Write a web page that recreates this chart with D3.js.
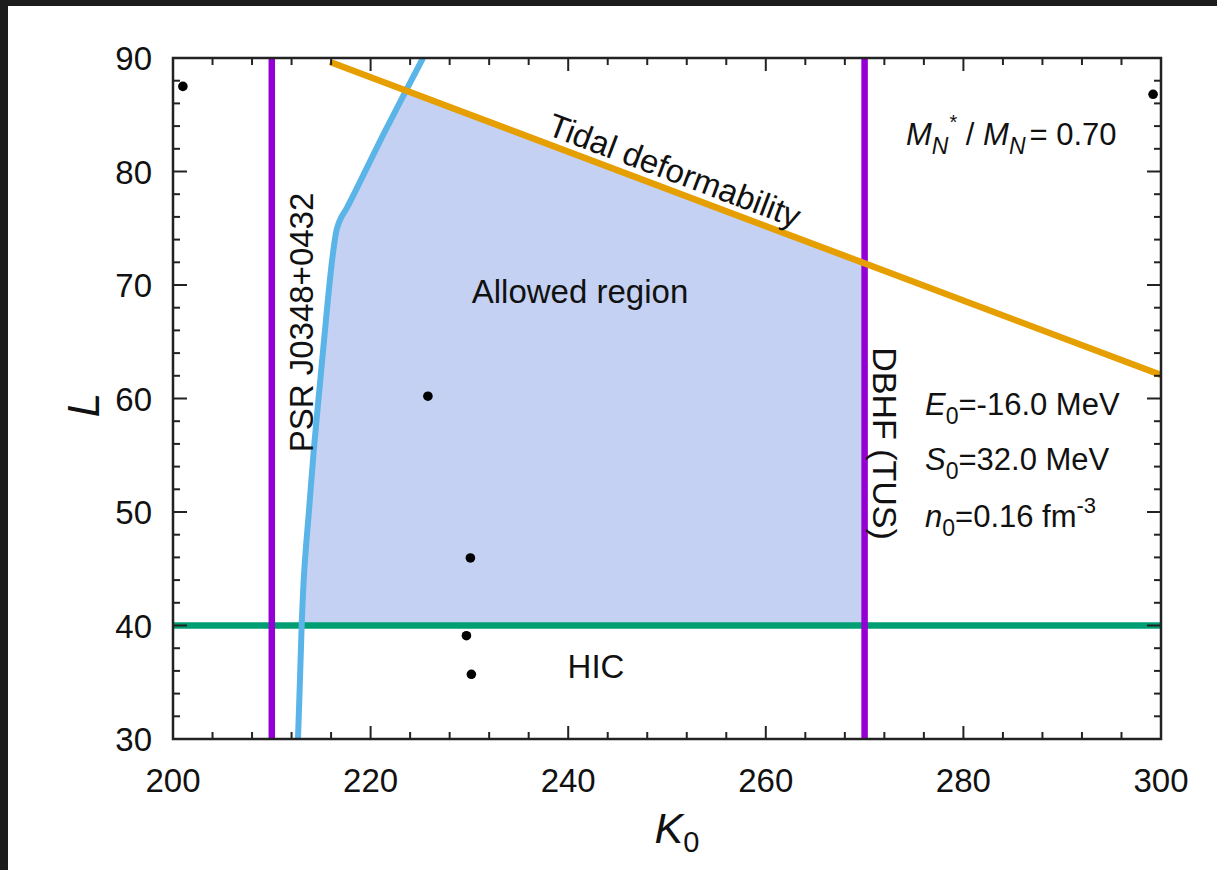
<!DOCTYPE html>
<html>
<head>
<meta charset="utf-8">
<script src="https://cdn.jsdelivr.net/npm/d3@7"></script>
<style>
  html, body { margin: 0; padding: 0; background: #fff; }
  svg { display: block; }
  text { font-family: "Liberation Sans", Arial, Helvetica, sans-serif; fill: #111; }
</style>
</head>
<body>
<svg id="chart" width="1217" height="870"></svg>
<script>
// Axis ticks
const kTicks = [200, 220, 240, 260, 280, 300];
const lTicks = [30, 40, 50, 60, 70, 80, 90];

// PSR J0348+0432 maximum-mass constraint (K0, L)
const psrK = [212.65, 212.85, 213.03, 213.3, 213.75, 214.25, 214.95, 215.6, 216.15, 216.6, 217.05, 217.6, 221.4, 225.3];
const psrL = [30.0, 35.2, 40.22, 45.0, 50.0, 55.46, 62.0, 68.0, 72.5, 75.0, 76.0, 76.8, 83.45, 90.0];

// Tidal deformability upper bound (K0, L)
const tidalK = [215.9, 300];
const tidalL = [89.65, 62.07];

// Vertical and horizontal constraints
const lowerK = 210;       // left purple bound
const dbhfK = 270;        // DBHF (TUS)
const hicL = 40;          // HIC

// Parameter sets
const dotK = [201.0, 299.2, 225.8, 230.1, 229.7, 230.2];
const dotL = [87.5, 86.8, 60.2, 45.95, 39.1, 35.7];

const svg = d3.select("#chart");
const W = 1217, H = 870;
const m = { left: 173, top: 58, right: 1161, bottom: 739 };

// Dark frame strips at the top and left edges
svg.append("rect").attr("x", 0).attr("y", 0).attr("width", W).attr("height", 6).attr("fill", "#1c1c1c");
svg.append("rect").attr("x", 0).attr("y", 0).attr("width", 8).attr("height", H).attr("fill", "#1c1c1c");

const x = d3.scaleLinear().domain([200, 300]).range([m.left, m.right]);
const y = d3.scaleLinear().domain([30, 90]).range([m.bottom, m.top]);

svg.append("defs").append("clipPath").attr("id", "plotclip")
  .append("rect").attr("x", m.left).attr("y", m.top)
  .attr("width", m.right - m.left).attr("height", m.bottom - m.top);

const plot = svg.append("g").attr("clip-path", "url(#plotclip)");

// Tidal line as a function of K0
const tidalAt = k => tidalL[0] + (tidalL[1] - tidalL[0]) * (k - tidalK[0]) / (tidalK[1] - tidalK[0]);

// PSR curve points as pairs
const psr = psrK.map((k, i) => [k, psrL[i]]);

function psrAtL(l) {
  for (let i = 0; i < psr.length - 1; i++) {
    const [k0, l0] = psr[i], [k1, l1] = psr[i + 1];
    if (l >= l0 && l <= l1) return k0 + (k1 - k0) * (l - l0) / (l1 - l0);
  }
  return psr[psr.length - 1][0];
}
function psrTidalCross() {
  for (let i = 0; i < psr.length - 1; i++) {
    const [k0, l0] = psr[i], [k1, l1] = psr[i + 1];
    const d0 = l0 - tidalAt(k0), d1 = l1 - tidalAt(k1);
    if (d0 <= 0 && d1 >= 0) {
      const t = d0 / (d0 - d1);
      return [k0 + t * (k1 - k0), l0 + t * (l1 - l0)];
    }
  }
  return psr[psr.length - 1];
}

const smooth = d3.line().x(d => x(d[0])).y(d => y(d[1])).curve(d3.curveCatmullRom.alpha(0.5));
const straight = d3.line().x(d => x(d[0])).y(d => y(d[1]));

// Allowed region: PSR curve from HIC up to the tidal line, along the tidal line
// to DBHF, then down to HIC.
const cross = psrTidalCross();
const leftEdge = [[psrAtL(hicL), hicL]];
psr.forEach(p => { if (p[1] > hicL && p[1] < cross[1]) leftEdge.push(p); });
leftEdge.push(cross);
const rest = [[dbhfK, tidalAt(dbhfK)], [dbhfK, hicL]];
const regionPath = smooth(leftEdge) + rest.map(p => `L${x(p[0])},${y(p[1])}`).join("") + "Z";

plot.append("path")
  .attr("d", regionPath)
  .attr("fill", "#c5d1f3")
  .attr("stroke", "none");

// HIC
plot.append("line")
  .attr("x1", x(200)).attr("x2", x(300))
  .attr("y1", y(hicL)).attr("y2", y(hicL))
  .attr("stroke", "#009e73").attr("stroke-width", 6.5);

// Purple bounds
[lowerK, dbhfK].forEach(k => {
  plot.append("line")
    .attr("x1", x(k)).attr("x2", x(k))
    .attr("y1", y(30)).attr("y2", y(90))
    .attr("stroke", "#9400d3").attr("stroke-width", 6.5);
});

// PSR curve
plot.append("path")
  .attr("d", smooth(psr))
  .attr("fill", "none")
  .attr("stroke", "#5bb4e8")
  .attr("stroke-width", 6)
  .attr("stroke-linejoin", "round");

// Tidal deformability line
plot.append("path")
  .attr("d", straight(tidalK.map((k, i) => [k, tidalL[i]])))
  .attr("fill", "none")
  .attr("stroke", "#e69f00")
  .attr("stroke-width", 6.5);

// Parameter-set dots
plot.selectAll("circle.dot")
  .data(dotK.map((k, i) => [k, dotL[i]]))
  .enter().append("circle")
  .attr("class", "dot")
  .attr("cx", d => x(d[0])).attr("cy", d => y(d[1]))
  .attr("r", 4.8).attr("fill", "#000");

// Frame with ticks on all four sides
const frame = svg.append("g");
const kMinor = d3.range(200, 300.01, 4);
const lMinor = d3.range(30, 90.01, 2);
const tickStroke = "#222";
const majLen = 13, minLen = 7;

kMinor.forEach(k => {
  const len = kTicks.includes(Math.round(k)) ? majLen : minLen;
  frame.append("line").attr("x1", x(k)).attr("x2", x(k))
    .attr("y1", m.bottom).attr("y2", m.bottom - len)
    .attr("stroke", tickStroke).attr("stroke-width", 2);
  frame.append("line").attr("x1", x(k)).attr("x2", x(k))
    .attr("y1", m.top).attr("y2", m.top + len)
    .attr("stroke", tickStroke).attr("stroke-width", 2);
});
lMinor.forEach(l => {
  const len = lTicks.includes(Math.round(l)) ? majLen + 1 : minLen;
  frame.append("line").attr("x1", m.left).attr("x2", m.left + len)
    .attr("y1", y(l)).attr("y2", y(l))
    .attr("stroke", tickStroke).attr("stroke-width", 2);
  frame.append("line").attr("x1", m.right).attr("x2", m.right - len)
    .attr("y1", y(l)).attr("y2", y(l))
    .attr("stroke", tickStroke).attr("stroke-width", 2);
});
frame.append("rect")
  .attr("x", m.left).attr("y", m.top)
  .attr("width", m.right - m.left).attr("height", m.bottom - m.top)
  .attr("fill", "none").attr("stroke", tickStroke).attr("stroke-width", 2.5);

// Tick labels
const fs = 33;
svg.selectAll("text.kt").data(kTicks).enter().append("text")
  .attr("class", "kt")
  .attr("x", d => x(d)).attr("y", m.bottom + 53)
  .attr("text-anchor", "middle").attr("font-size", fs)
  .text(d => d);
svg.selectAll("text.lt").data(lTicks).enter().append("text")
  .attr("class", "lt")
  .attr("x", m.left - 21).attr("y", d => y(d) + 12)
  .attr("text-anchor", "end").attr("font-size", fs)
  .text(d => d);

// Axis titles
const kt = svg.append("text")
  .attr("x", 677).attr("y", 843)
  .attr("text-anchor", "middle").attr("font-size", 43);
kt.append("tspan").attr("font-style", "italic").text("K");
kt.append("tspan").attr("font-size", 29).attr("dy", 9).text("0");

svg.append("text")
  .attr("transform", "translate(99,405) rotate(-90)")
  .attr("text-anchor", "middle").attr("font-size", 44)
  .attr("font-style", "italic")
  .text("L");

// Curve labels
const angle = Math.atan2(y(tidalL[1]) - y(tidalL[0]), x(tidalK[1]) - x(tidalK[0])) * 180 / Math.PI;
const tx = 670.5, tyLine = y(tidalAt(x.invert(tx)));
svg.append("text")
  .attr("transform", `translate(${tx},${tyLine - 9}) rotate(${angle})`)
  .attr("text-anchor", "middle").attr("font-size", fs)
  .text("Tidal deformability");

svg.append("text")
  .attr("transform", "translate(313,322.5) rotate(-90)")
  .attr("text-anchor", "middle").attr("font-size", fs)
  .text("PSR J0348+0432");

svg.append("text")
  .attr("transform", "translate(873,443.5) rotate(90)")
  .attr("text-anchor", "middle").attr("font-size", fs + 1)
  .text("DBHF (TUS)");

svg.append("text")
  .attr("x", 580).attr("y", 302.5)
  .attr("text-anchor", "middle").attr("font-size", fs)
  .text("Allowed region");

svg.append("text")
  .attr("x", 596).attr("y", 678)
  .attr("text-anchor", "middle").attr("font-size", fs)
  .text("HIC");

// Effective mass annotation
const mt = svg.append("text").attr("x", 906).attr("y", 145).attr("font-size", 31);
mt.append("tspan").attr("font-style", "italic").text("M");
mt.append("tspan").attr("font-style", "italic").attr("font-size", 23).attr("dy", 9).text("N");
mt.append("tspan").attr("font-size", 20).attr("dy", -25).attr("dx", 1).text("*");
mt.append("tspan").attr("dy", 16).text(" / ");
mt.append("tspan").attr("font-style", "italic").text("M");
mt.append("tspan").attr("font-style", "italic").attr("font-size", 23).attr("dy", 9).text("N");
mt.append("tspan").attr("dy", -9).attr("dx", 4).text("= 0.70");

// Saturation properties
const sat = [
  { sym: "E", sub: "0", rest: "=-16.0 MeV", y: 415 },
  { sym: "S", sub: "0", rest: "=32.0 MeV", y: 470 },
  { sym: "n", sub: "0", rest: "=0.16 fm", sup: "-3", y: 527 }
];
sat.forEach(s => {
  const t = svg.append("text").attr("x", 925).attr("y", s.y).attr("font-size", 31);
  t.append("tspan").attr("font-style", "italic").text(s.sym);
  t.append("tspan").attr("font-size", 23).attr("dy", 9).text(s.sub);
  t.append("tspan").attr("dy", -9).text(s.rest);
  if (s.sup) t.append("tspan").attr("font-size", 22).attr("dy", -14).text(s.sup);
});
</script>
</body>
</html>
